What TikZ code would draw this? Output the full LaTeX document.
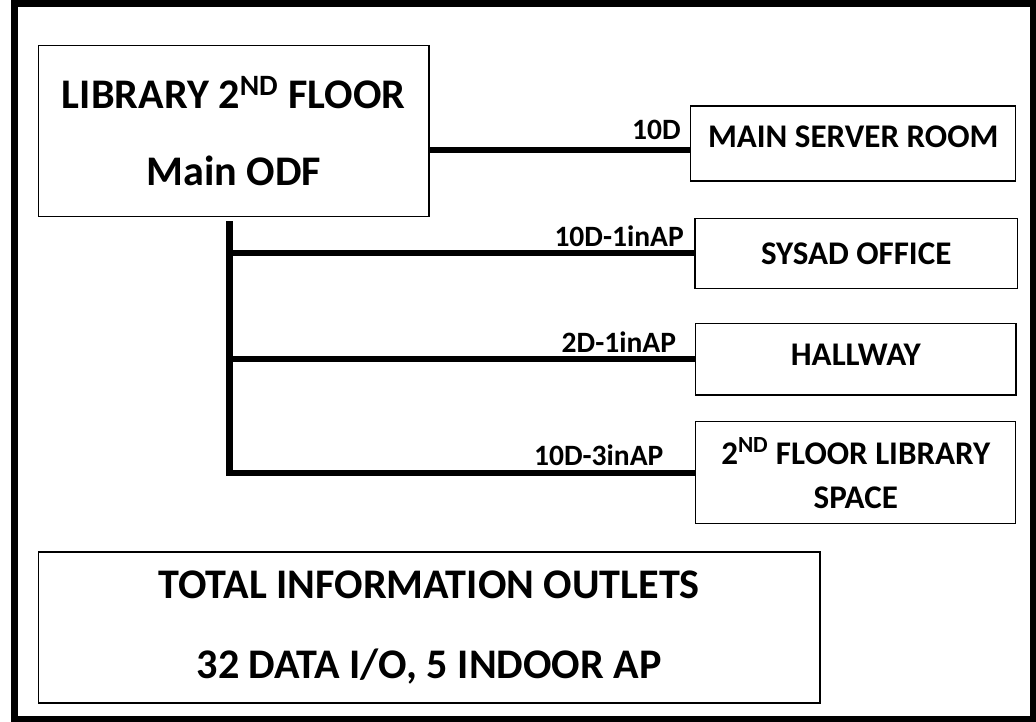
\documentclass[tikz,border=0pt]{standalone}
\usepackage{fontspec}
\setmainfont{Carlito}
\usetikzlibrary{positioning,calc}

\begin{document}
\begin{tikzpicture}[font=\bfseries,
   box/.style={draw,line width=0.9pt,align=center,inner sep=0pt},
   big/.style={font=\fontsize{30}{36}\selectfont\bfseries},
   mid/.style={font=\fontsize{23.5}{28}\selectfont\bfseries},
   lbl/.style={font=\fontsize{21}{25}\selectfont\bfseries,inner sep=0pt,anchor=base east},
   wire/.style={line width=4.3pt}]
  \useasboundingbox (0,0) rectangle (25.9,-18.05);
  \draw[line width=5pt] (0.3625,-0.0875) rectangle (25.8375,-17.9875);

  \node[box,big,minimum width=9.77cm,minimum height=4.275cm] (odf) at (5.841,-3.28)
       {LIBRARY 2\textsuperscript{ND} FLOOR\\[19pt]Main ODF};
  \node[box,mid,minimum width=8.125cm,minimum height=1.875cm,text depth=9.7pt] (srv) at (21.33,-3.5875)
       {MAIN SERVER ROOM};
  \node[box,mid,minimum width=8.06cm,minimum height=1.75cm] (sys) at (21.405,-6.3325)
       {SYSAD OFFICE};
  \node[box,mid,minimum width=8.01cm,minimum height=1.79cm,text depth=5.7pt] (hall) at (21.395,-8.98)
       {HALLWAY};
  \node[box,mid,minimum width=8.0cm,minimum height=2.55cm] (lib) at (21.395,-11.82)
       {2\textsuperscript{ND} FLOOR LIBRARY\\[3pt]SPACE};
  \node[box,big,minimum width=19.54cm,minimum height=3.775cm] (total) at (10.729,-15.6875)
       {TOTAL INFORMATION OUTLETS\\[21pt]32 DATA I/O, 5 INDOOR AP};

  \draw[wire] ([yshift=-4.625mm]odf.east) -- ([yshift=-4.625mm]odf.east -| srv.west)
       node[lbl,xshift=-1.6mm,yshift=2.6mm]{10D};
  \coordinate (trunk) at ([xshift=-1.04mm,yshift=-1mm]odf.south);
  \draw[wire] (trunk) |- (lib.west)
       node[lbl,xshift=-7.2mm,yshift=1.75mm]{10D-3inAP};
  \draw[wire] (trunk |- sys.west) -- (sys.west)
       node[lbl,xshift=-1.9mm,yshift=1.75mm]{10D-1inAP};
  \draw[wire] (trunk |- hall.west) -- (hall.west)
       node[lbl,xshift=-4mm,yshift=1.75mm]{2D-1inAP};
\end{tikzpicture}
\end{document}
